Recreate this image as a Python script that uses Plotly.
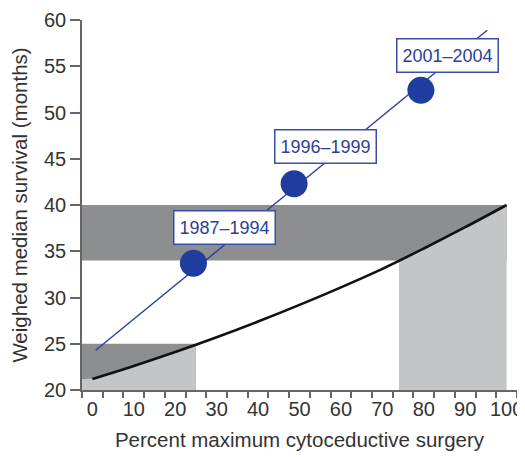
import numpy as np
import plotly.graph_objects as go

# ---- data ----
surgery_pct = [0, 10, 20, 30, 40, 50, 60, 70, 80, 90, 100]
survival_curve = [21.2, 22.6, 24.1, 25.7, 27.4, 29.2, 31.1, 33.1, 35.3, 37.6, 40.0]

era_labels = ["1987\u20131994", "1996\u20131999", "2001\u20132004"]
era_pct = [24.4, 48.7, 79.3]
era_survival = [33.7, 42.3, 52.4]
label_pct = [31.8, 56.3, 85.8]
label_survival = [37.6, 46.3, 56.2]

trend_pct = [0.8, 95.3]
trend_survival = [24.3, 58.9]

low_band = [20, 25]        # survival band (months)
high_band = [34, 40]
low_surgery = [-2.5, 25]   # surgery ranges (%)
high_surgery = [74, 100]

x_ticks = [0, 10, 20, 30, 40, 50, 60, 70, 80, 90, 100]
x_minor = [-2.5 + 5 * i for i in range(22)]
y_ticks = [20, 25, 30, 35, 40, 45, 50, 55, 60]

DARK = "#8d8e90"
LIGHT = "#c4c5c7"
BLUE = "#2b3f9a"
FONT = "Liberation Sans, Arial, sans-serif"

fig = go.Figure()

# light fills under the curve
for rng in (low_surgery, high_surgery):
    xs = np.linspace(rng[0], rng[1], 40)
    ys = np.interp(xs, surgery_pct, survival_curve)
    fx = np.concatenate([[rng[0]], xs, [rng[1]]])
    fy = np.concatenate([[low_band[0]], ys, [low_band[0]]])
    fig.add_trace(go.Scatter(x=fx, y=fy, fill="toself", fillcolor=LIGHT,
                             line=dict(width=0), mode="lines", hoverinfo="skip",
                             showlegend=False))

# curve
fig.add_trace(go.Scatter(x=surgery_pct, y=survival_curve, mode="lines",
                         line=dict(color="#111111", width=2.6, shape="spline"),
                         showlegend=False))
# trend line
fig.add_trace(go.Scatter(x=trend_pct, y=trend_survival, mode="lines",
                         line=dict(color=BLUE, width=1.4), showlegend=False))
# era points
fig.add_trace(go.Scatter(x=era_pct, y=era_survival, mode="markers",
                         marker=dict(color="#1f3d9e", size=27, line=dict(width=0)),
                         showlegend=False))

# dark bands
fig.add_shape(type="rect", x0=low_surgery[0], x1=low_surgery[1], y0=low_band[0], y1=low_band[1],
              fillcolor=DARK, line=dict(width=0), layer="below")
fig.add_shape(type="rect", x0=-2.5, x1=high_surgery[1], y0=high_band[0], y1=high_band[1],
              fillcolor=DARK, line=dict(width=0), layer="below")

for t, lx, ly in zip(era_labels, label_pct, label_survival):
    fig.add_annotation(x=lx, y=ly, text=t, showarrow=False,
                       font=dict(family=FONT, size=18, color=BLUE),
                       bgcolor="white", bordercolor="#3a4ea6", borderwidth=1.5,
                       width=94, height=26, borderpad=3)

fig.update_layout(
    width=517, height=449,
    margin=dict(l=74, r=8, t=12, b=67),
    plot_bgcolor="white", paper_bgcolor="white",
    font=dict(family=FONT, size=20, color="#333333"),
)
fig.update_xaxes(range=[-2.5, 102.5], tickvals=x_ticks, ticks="",
                 showline=True, linecolor="#666666", linewidth=1.5,
                 showgrid=False, zeroline=False, automargin=False,
                 minor=dict(tickvals=x_minor, ticks="outside", ticklen=6,
                            tickcolor="#666666", tickwidth=1.5, showgrid=False),
                 tickfont=dict(size=20),
                 title=dict(text="Percent maximum cytoceductive surgery",
                            font=dict(size=20.5), standoff=14))
fig.update_yaxes(range=[20, 60], tickvals=y_ticks, ticks="outside", ticklen=10,
                 tickcolor="#666666", tickwidth=1.5,
                 showline=True, linecolor="#666666", linewidth=1.5,
                 showgrid=False, zeroline=False, automargin=False,
                 tickfont=dict(size=20),
                 title=dict(text="Weighed median survival (months)",
                            font=dict(size=20.5), standoff=17))

fig.write_html("out.html")
